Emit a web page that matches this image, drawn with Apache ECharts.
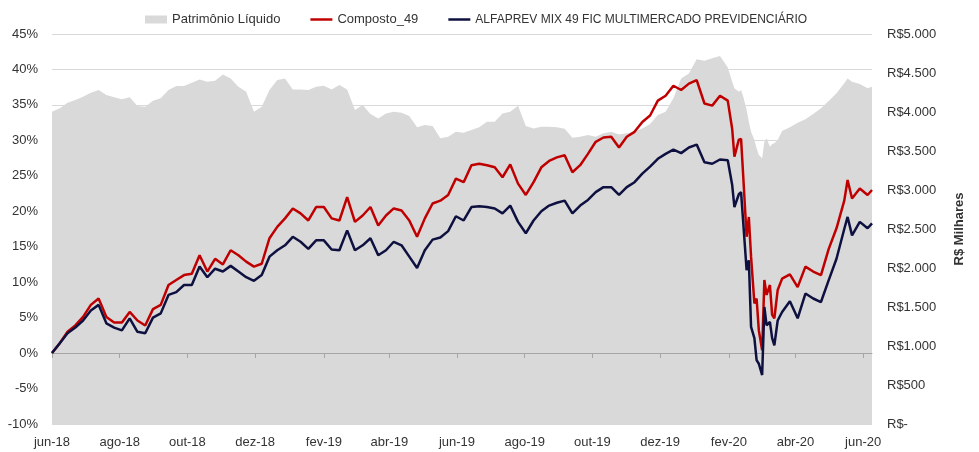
<!DOCTYPE html>
<html><head><meta charset="utf-8">
<script src="https://cdn.jsdelivr.net/npm/echarts@6/dist/echarts.min.js"></script>
<style>html,body{margin:0;padding:0;background:#fff}#c{width:979px;height:452px}</style>
</head><body><div id="c"></div>
<script>
const dates = ['2018-06-01','2018-06-08','2018-06-15','2018-06-22','2018-06-29','2018-07-06','2018-07-13','2018-07-20','2018-07-27','2018-08-03',
'2018-08-10','2018-08-17','2018-08-24','2018-08-31','2018-09-07','2018-09-14','2018-09-21','2018-09-28','2018-10-05','2018-10-12',
'2018-10-19','2018-10-26','2018-11-02','2018-11-09','2018-11-16','2018-11-23','2018-11-30','2018-12-07','2018-12-14','2018-12-21',
'2018-12-28','2019-01-04','2019-01-11','2019-01-18','2019-01-25','2019-02-01','2019-02-08','2019-02-15','2019-02-22','2019-03-01',
'2019-03-08','2019-03-15','2019-03-22','2019-03-29','2019-04-05','2019-04-12','2019-04-19','2019-04-26','2019-05-03','2019-05-10',
'2019-05-17','2019-05-24','2019-05-31','2019-06-07','2019-06-14','2019-06-21','2019-06-28','2019-07-05','2019-07-12','2019-07-19',
'2019-07-26','2019-08-02','2019-08-09','2019-08-16','2019-08-23','2019-08-30','2019-09-06','2019-09-13','2019-09-20','2019-09-27',
'2019-10-04','2019-10-11','2019-10-18','2019-10-25','2019-11-01','2019-11-08','2019-11-15','2019-11-22','2019-11-29','2019-12-06',
'2019-12-13','2019-12-20','2019-12-27','2020-01-03','2020-01-10','2020-01-17','2020-01-24','2020-01-31','2020-02-04','2020-02-06',
'2020-02-10','2020-02-12','2020-02-14','2020-02-17','2020-02-19','2020-02-21','2020-02-24','2020-02-26','2020-02-28','2020-03-02',
'2020-03-04','2020-03-06','2020-03-09','2020-03-11','2020-03-13','2020-03-16','2020-03-20','2020-03-27','2020-04-03','2020-04-10',
'2020-04-17','2020-04-24','2020-05-01','2020-05-08','2020-05-15','2020-05-18','2020-05-22','2020-05-29','2020-06-05','2020-06-09'];

const composto = [0.0,1.4,3.0,3.9,5.1,6.8,7.7,5.1,4.3,4.3,
5.8,4.6,3.9,6.2,6.8,9.6,10.3,11.0,11.2,13.8,
11.5,13.3,12.5,14.5,13.8,12.9,12.2,12.6,16.2,17.8,
19.0,20.4,19.7,18.7,20.6,20.6,19.0,18.7,22.0,18.5,
19.4,20.6,18.0,19.4,20.4,20.1,18.7,16.4,19.0,21.1,
21.5,22.3,24.6,24.1,26.5,26.7,26.5,26.2,24.8,26.6,
23.9,22.3,24.1,26.2,27.1,27.6,27.9,25.5,26.5,28.1,
29.8,30.4,30.5,29.0,30.5,31.2,32.6,33.5,35.6,36.3,
37.7,37.1,38.0,38.5,35.2,34.9,36.3,35.6,31.6,27.7,
30.1,30.2,24.8,16.4,19.2,13.6,7.0,7.7,3.2,0.4,
10.3,8.2,9.6,5.4,4.9,8.9,10.5,11.1,9.3,12.2,
11.5,11.0,14.7,17.6,21.5,24.4,21.8,23.2,22.3,23.0];

const alfaprev = [0.0,1.4,2.8,3.6,4.6,6.0,6.8,4.2,3.6,3.2,
4.9,3.0,2.8,5.0,5.6,8.2,8.6,9.6,9.6,12.2,
10.7,11.9,11.5,12.3,11.5,10.7,10.2,11.0,13.6,14.5,
15.2,16.4,15.7,14.7,15.9,15.9,14.6,14.5,17.3,14.5,
15.2,16.2,13.8,14.5,15.7,15.2,13.6,12.0,14.5,16.0,
16.3,17.2,19.3,18.7,20.6,20.7,20.6,20.4,19.7,20.8,
18.5,16.9,18.7,20.0,20.8,21.2,21.5,19.7,20.8,21.6,
22.7,23.4,23.4,22.3,23.4,24.1,25.3,26.3,27.4,28.1,
28.7,28.2,29.0,29.4,26.9,26.7,27.3,27.2,23.7,20.6,
22.4,22.7,18.3,11.7,13.1,3.7,2.1,-1.0,-1.5,-3.1,
6.5,3.9,4.4,2.1,1.1,4.6,5.8,7.3,4.9,8.4,
7.7,7.2,10.3,13.3,17.5,19.2,16.6,18.5,17.6,18.3];

const patrimonio = [4004,4047,4119,4153,4196,4247,4282,4217,4188,4162,
4188,4076,4068,4145,4175,4282,4333,4333,4376,4418,
4388,4401,4480,4431,4324,4260,4004,4068,4282,4410,
4431,4290,4290,4282,4324,4337,4290,4345,4290,4025,
4089,3974,3918,3982,4004,3991,3948,3803,3833,3820,
3662,3683,3747,3735,3769,3803,3876,3876,3982,4004,
4080,3820,3790,3812,3812,3803,3786,3671,3683,3705,
3683,3726,3747,3713,3726,3747,3790,3846,3961,4004,
4175,4431,4495,4675,4658,4688,4717,4570,4388,4303,
4260,4282,4196,4025,3876,3748,3641,3534,3448,3406,
3619,3662,3555,3589,3598,3641,3756,3803,3863,3906,
3974,4047,4141,4239,4367,4431,4388,4358,4303,4324];

const tickDates = ['2018-06-01','2018-08-01','2018-10-01','2018-12-01','2019-02-01','2019-04-01','2019-06-01',
'2019-08-01','2019-10-01','2019-12-01','2020-02-01','2020-04-01','2020-06-01'];
const monthNames = ['jan','fev','mar','abr','mai','jun','jul','ago','set','out','nov','dez'];
const seriesNames = ['Patrimônio Líquido','Composto_49','ALFAPREV MIX 49 FIC MULTIMERCADO PREVIDENCIÁRIO'];

const FONT = '"Liberation Sans", Arial, sans-serif';
const TXT = '#333333';
const LINE_ICON = 'path://M0,0L44,0L44,5L0,5Z';
const toTs = s => { const p = s.split('-').map(Number); return Date.UTC(p[0], p[1] - 1, p[2]); };
const tickTs = tickDates.map(toTs);
const xMin = toTs('2018-06-01'), xMax = toTs('2020-06-09');
const fmtDate = v => { const d = new Date(v); return monthNames[d.getUTCMonth()] + '-' + String(d.getUTCFullYear()).slice(2); };
const fmtMoney = v => v === 0 ? 'R$-' : 'R$' + (v >= 1000 ? Math.floor(v/1000) + '.' + String(v % 1000).padStart(3,'0') : String(v));
const zip = arr => dates.map((d, i) => [toTs(d), arr[i]]);

const chart = echarts.init(document.getElementById('c'), null, {renderer: 'canvas'});
chart.setOption({
  animation: false,
  backgroundColor: '#ffffff',
  textStyle: {fontFamily: FONT},
  legend: {
    left: 140, top: 8, itemWidth: 22, itemHeight: 8, itemGap: 30, symbolKeepAspect: true,
    textStyle: {fontFamily: FONT, fontSize: 13, color: TXT},
    data: [
      {name: seriesNames[0], icon: 'rect'},
      {name: seriesNames[1], icon: LINE_ICON},
      {name: seriesNames[2], icon: LINE_ICON, textStyle: {fontSize: 12}}
    ]
  },
  grid: {left: 52, right: 107, top: 34, bottom: 28, containLabel: false},
  xAxis: [
    {type: 'value', min: xMin, max: xMax, position: 'bottom', scale: true,
     axisLine: {show: false}, axisTick: {show: false}, splitLine: {show: false},
     axisLabel: {customValues: tickTs, formatter: fmtDate, margin: 12, fontSize: 13, color: TXT, fontFamily: FONT, showMinLabel: true, showMaxLabel: true}},
    {type: 'value', min: xMin, max: xMax, position: 'bottom', scale: true, z: 3,
     axisLine: {show: true, onZero: true, onZeroAxisIndex: 0, lineStyle: {color: '#A6A6A6', width: 1}},
     axisTick: {show: true, customValues: tickTs, length: 5, lineStyle: {color: '#A6A6A6'}},
     axisLabel: {show: false}, splitLine: {show: false}}
  ],
  yAxis: [
    {type: 'value', min: -10, max: 45, interval: 5, position: 'left',
     axisLine: {show: false, onZero: false}, axisTick: {show: false},
     splitLine: {show: true, lineStyle: {color: '#D9D9D9', width: 1}},
     axisLabel: {formatter: '{value}%', margin: 14, fontSize: 13, color: TXT, fontFamily: FONT}},
    {type: 'value', min: 0, max: 5000, interval: 500, position: 'right',
     axisLine: {show: false, onZero: false}, axisTick: {show: false}, splitLine: {show: false},
     axisLabel: {formatter: fmtMoney, margin: 15, fontSize: 13, color: TXT, fontFamily: FONT},
     name: 'R$ Milhares', nameLocation: 'middle', nameRotate: 90, nameGap: 81,
     nameTextStyle: {fontWeight: 'bold', fontSize: 13, color: TXT, fontFamily: FONT}}
  ],
  series: [
    {name: seriesNames[0], type: 'line', xAxisIndex: 0, yAxisIndex: 1, data: zip(patrimonio),
     symbol: 'none', z: 1, silent: true,
     lineStyle: {width: 0, color: '#D9D9D9'}, itemStyle: {color: '#D9D9D9'},
     areaStyle: {color: '#D9D9D9', opacity: 1}},
    {name: seriesNames[1], type: 'line', xAxisIndex: 0, yAxisIndex: 0, data: zip(composto),
     symbol: 'none', z: 5, lineStyle: {width: 2.5, color: '#C00000'}, itemStyle: {color: '#C00000'}},
    {name: seriesNames[2], type: 'line', xAxisIndex: 0, yAxisIndex: 0, data: zip(alfaprev),
     symbol: 'none', z: 6, lineStyle: {width: 2.5, color: '#0E1040'}, itemStyle: {color: '#0E1040'}}
  ]
});
</script>
</body></html>
